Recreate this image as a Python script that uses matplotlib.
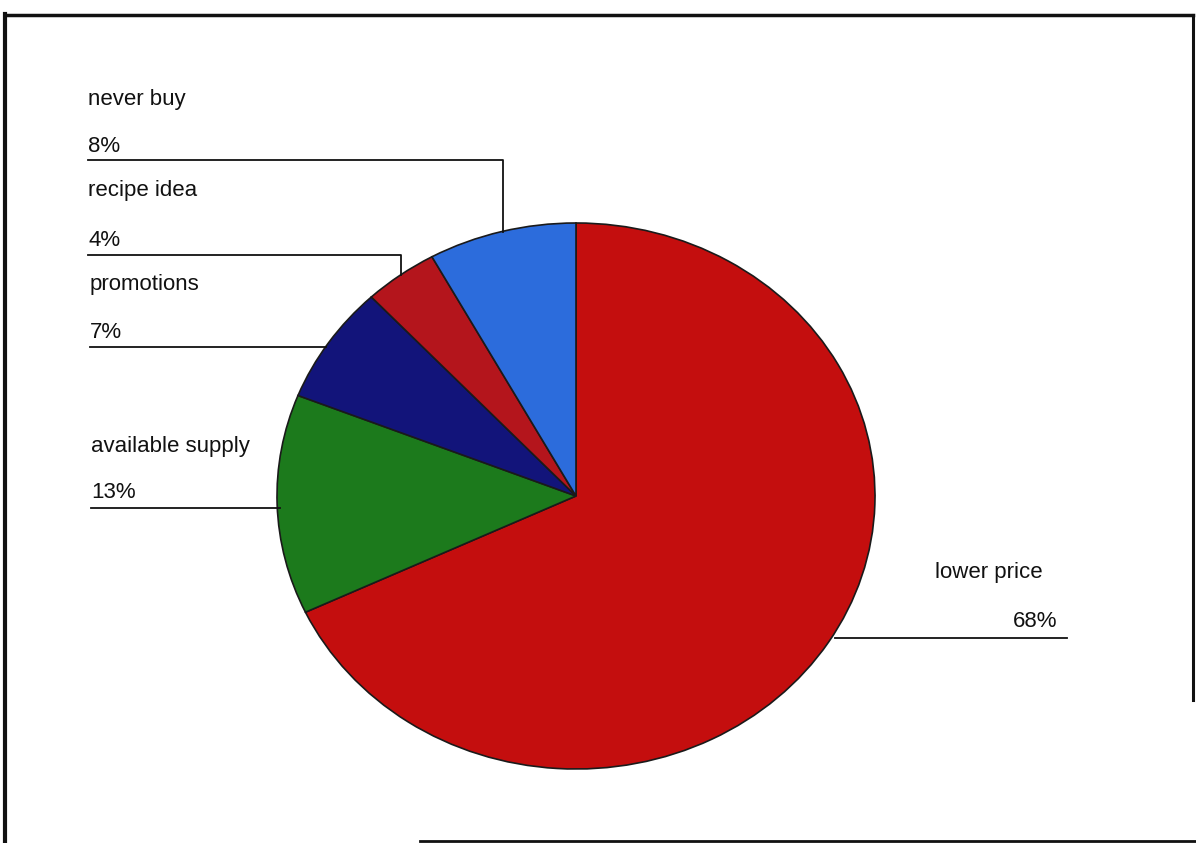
import matplotlib
matplotlib.use("Agg")
import matplotlib.pyplot as plt
from matplotlib.lines import Line2D

W, H = 1196, 843

labels = ["lower price", "available supply", "promotions", "recipe idea", "never buy"]
shares = [68, 13, 7, 4, 8]
colors = ["#C40E0E", "#1C7A1C", "#12147A", "#B4151C", "#2C6CDC"]


def px(x, y):
    # figure pixel (top-left origin) -> figure fraction
    return x / W, 1 - y / H


plt.rcParams["font.family"] = ["Liberation Sans", "DejaVu Sans"]

fig = plt.figure(figsize=(W / 100, H / 100), dpi=100)
fig.patch.set_facecolor("white")

# pie area: centre (576, 495), radii 299 x 273 px
cx, cy = 576, 496
rx, ry = 299, 273
x0, y0 = px(cx - rx, cy + ry)
ax = fig.add_axes([x0, y0, 2 * rx / W, 2 * ry / H])
ax.pie(
    shares,
    colors=colors,
    startangle=90,
    counterclock=False,
    wedgeprops=dict(edgecolor="#1a1a1a", linewidth=1.2),
)
ax.set_aspect("auto")
ax.set_xlim(-1, 1)
ax.set_ylim(-1, 1)
ax.axis("off")


def line(xs, ys, lw=1.3, color="#111111"):
    pts = [px(x, y) for x, y in zip(xs, ys)]
    fig.add_artist(Line2D([p[0] for p in pts], [p[1] for p in pts],
                          transform=fig.transFigure, color=color, lw=lw))


def label(x, y, s, ha="left"):
    fx, fy = px(x, y)
    fig.text(fx, fy, s, ha=ha, va="baseline", fontsize=16, color="#111111")


# never buy
label(88, 105, labels[4])
label(88, 152, f"{shares[4]}%")
line([88, 503, 503], [160, 160, 232])

# recipe idea
label(88, 196, labels[3])
label(88, 246, f"{shares[3]}%")
line([88, 401, 401], [255, 255, 275])

# promotions
label(90, 290, labels[2])
label(90, 338, f"{shares[2]}%")
line([90, 326], [347, 347])

# available supply
label(91, 452, labels[1])
label(91, 498, f"{shares[1]}%")
line([91, 280], [508, 508])

# lower price
label(935, 578, labels[0])
label(1057, 627, f"{shares[0]}%", ha="right")
line([835, 1067], [638, 638])

# document frame
line([5, 5], [14, 843], lw=3)
line([5, 1193], [15, 15], lw=2.5)
line([1193, 1193], [15, 700], lw=2.2)
line([420, 1196], [841, 841], lw=2)

fig.savefig("out.png", dpi=100, facecolor="white")
